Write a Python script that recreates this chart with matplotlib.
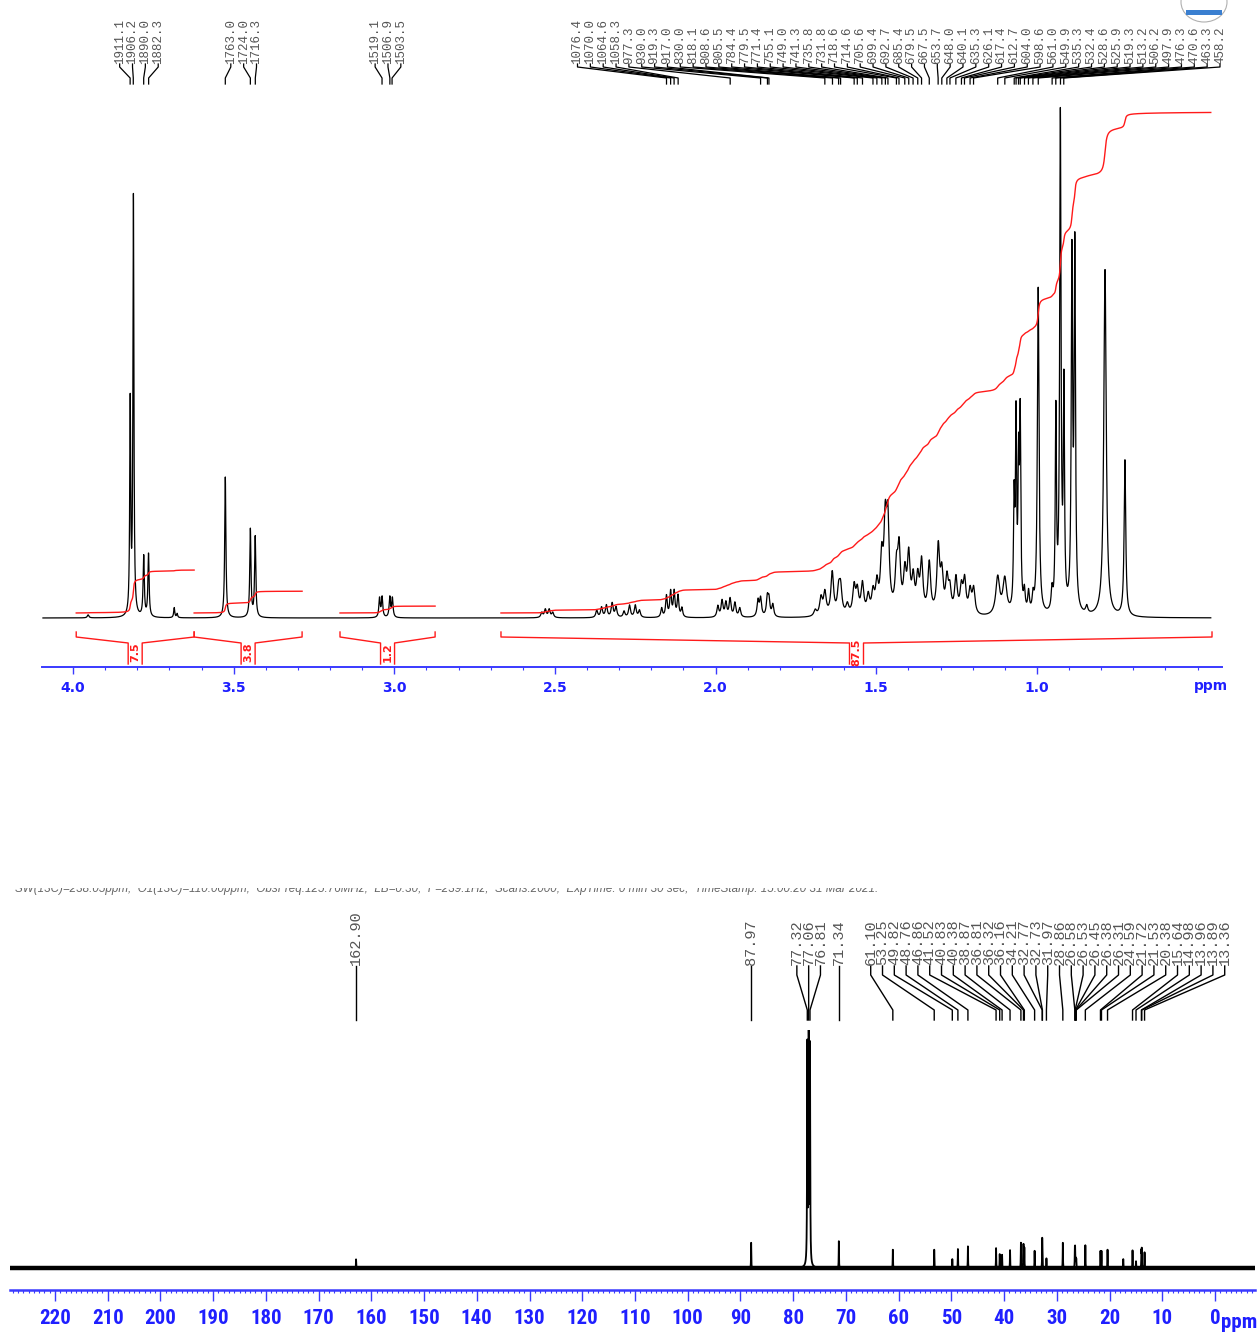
import numpy as np
import matplotlib
matplotlib.use("Agg")
import matplotlib.pyplot as plt
from matplotlib.lines import Line2D
from matplotlib.patches import Rectangle, Ellipse
from matplotlib import font_manager as fm

# ===================== DATA =====================
# ---- 1H spectrum (500 MHz) ----
h1_freq_mhz = 500.0
h1_peak_ppm = [
    3.953, 3.822, 3.812, 3.780, 3.765, 3.685, 3.676,
    3.526, 3.448, 3.433,
    3.046, 3.038, 3.014, 3.006,
    2.541, 2.530, 2.518, 2.507,
    2.370, 2.355, 2.340, 2.322, 2.310, 2.285, 2.268, 2.250, 2.237,
    2.168, 2.153, 2.140, 2.129, 2.117, 2.105,
    1.993, 1.980, 1.968, 1.955, 1.940, 1.925,
    1.868, 1.860, 1.839, 1.834, 1.822,
    1.690, 1.672, 1.660, 1.637, 1.617, 1.611, 1.590, 1.569, 1.559, 1.543,
    1.525, 1.510, 1.498, 1.483, 1.472, 1.464, 1.437, 1.429, 1.411, 1.399,
    1.385, 1.371, 1.359, 1.335, 1.307, 1.296, 1.280, 1.271, 1.252, 1.235,
    1.225, 1.208, 1.197,
    1.122, 1.100, 1.071, 1.065, 1.057, 1.052, 1.039, 1.026, 1.012, 0.996,
    0.953, 0.941, 0.927, 0.916, 0.891, 0.882, 0.845, 0.788, 0.726,
]
h1_peak_height = [
    0.006, 0.42, 0.83, 0.12, 0.125, 0.02, 0.008,
    0.28, 0.175, 0.16,
    0.038, 0.04, 0.04, 0.038,
    0.010, 0.016, 0.016, 0.010,
    0.014, 0.02, 0.024, 0.028, 0.02, 0.012, 0.024, 0.024, 0.014,
    0.018, 0.042, 0.05, 0.05, 0.042, 0.018,
    0.022, 0.032, 0.028, 0.036, 0.028, 0.018,
    0.032, 0.036, 0.036, 0.032, 0.024,
    0.012, 0.035, 0.045, 0.085, 0.045, 0.05, 0.02, 0.055, 0.045, 0.06,
    0.035, 0.04, 0.055, 0.10, 0.16, 0.17, 0.08, 0.12, 0.075, 0.11,
    0.065, 0.065, 0.10, 0.10, 0.13, 0.075, 0.065, 0.045, 0.07, 0.05,
    0.065, 0.045, 0.05,
    0.075, 0.07, 0.21, 0.37, 0.27, 0.37, 0.04, 0.04, 0.03, 0.65,
    0.04, 0.39, 0.98, 0.43, 0.69, 0.71, 0.015, 0.69, 0.31,
]
h1_peak_hwhm = (
    [0.003, 0.0018, 0.0018, 0.0022, 0.0022, 0.002, 0.002]
    + [0.0022] * 3 + [0.0025] * 4 + [0.0035] * 4 + [0.0035] * 9
    + [0.003] * 6 + [0.0035] * 6 + [0.0035] * 5 + [0.005] * 33
    + [0.007, 0.007, 0.0022, 0.0022, 0.0022, 0.0022, 0.003, 0.003, 0.003, 0.003,
       0.003, 0.0022, 0.0025, 0.0022, 0.0025, 0.0025, 0.004, 0.0045, 0.003]
)
h1_label_hz_groups = [
    [1911.1, 1906.2, 1890.0, 1882.3],
    [1763.0, 1724.0, 1716.3],
    [1519.1, 1506.9, 1503.5],
    [1076.4, 1070.0, 1064.6, 1058.3, 977.3, 930.0, 919.3, 917.0, 830.0, 818.1,
     808.6, 805.5, 784.4, 779.5, 771.4, 755.1, 749.0, 741.3, 735.8, 731.8,
     718.6, 714.6, 705.6, 699.4, 692.7, 685.4, 679.5, 667.5, 653.7, 648.0,
     640.1, 635.3, 626.1, 617.4, 612.7, 604.0, 598.6, 561.0, 549.9, 535.3,
     532.4, 528.6, 525.9, 519.3, 513.2, 506.2, 497.9, 476.3, 470.6, 463.3, 458.2],
]
h1_integral_from = [3.990, 3.623, 3.169, 2.668]
h1_integral_to = [3.623, 3.287, 2.873, 0.455]
h1_integral_value = [7.5, 3.8, 1.2, 87.5]
h1_tick_labels = ["4.0", "3.5", "3.0", "2.5", "2.0", "1.5", "1.0"]

# ---- 13C spectrum ----
c13_peak_ppm = [162.90, 87.97, 77.32, 77.06, 76.81, 71.34, 61.10, 53.25, 49.82,
                48.76, 46.86, 41.52, 40.83, 40.38, 38.87, 36.81, 36.32, 36.16,
                34.21, 32.77, 32.73, 31.97, 28.86, 26.58, 26.53, 26.45, 26.38,
                26.31, 24.59, 21.72, 21.53, 20.38, 17.40, 15.64, 14.98, 13.96,
                13.89, 13.36]
c13_peak_height = [0.039, 0.113, 0.98, 1.0, 0.97, 0.12, 0.082, 0.082, 0.04,
                   0.085, 0.097, 0.089, 0.062, 0.059, 0.08, 0.113, 0.105, 0.089,
                   0.077, 0.113, 0.06, 0.043, 0.113, 0.075, 0.075, 0.03, 0.03,
                   0.035, 0.102, 0.075, 0.075, 0.082, 0.04, 0.079, 0.03, 0.072,
                   0.08, 0.07]
c13_label_groups = [
    [162.90], [87.97], [77.32, 77.06, 76.81], [71.34],
    [61.10, 53.25, 49.82, 48.76, 46.86, 41.52, 40.83, 40.38, 38.87, 36.81,
     36.32, 36.16, 34.21, 32.77, 32.73, 31.97, 28.86, 26.58, 26.53, 26.45,
     26.38, 26.31, 24.59, 21.72, 21.53, 20.38, 15.64, 14.98, 13.96, 13.89, 13.36],
]
c13_tick_labels = ["220", "210", "200", "190", "180", "170", "160", "150", "140",
                   "130", "120", "110", "100", "90", "80", "70", "60", "50", "40",
                   "30", "20", "10", "0"]
c13_header = ("SW(13C)=238.05ppm;  O1(13C)=110.00ppm;  ObsFreq:125.76MHz;  LB=0.30;  "
              "F=239.1Hz;  Scans:2000;  ExpTime: 0 min 30 sec;  TimeStamp: 15:00:20 31 Mar 2021.")

# ===================== STYLE / LAYOUT =====================
W, H, DPI = 1260, 1333, 100
BLUE = "#1f1fff"
BLUE_LINE = "#3a3aff"
RED = "#ff1a1a"
LABEL_GREY = "#555555"

fig = plt.figure(figsize=(W / DPI, H / DPI), dpi=DPI)
fig.patch.set_facecolor("white")


def pick_condensed_bold(size):
    """Narrow/condensed bold font for the 13C axis, if one is installed."""
    cands = []
    for f in fm.fontManager.ttflist:
        fn = f.fname.lower()
        nm = f.name.lower()
        if ("narrow" in nm or "condensed" in nm or "condensed" in fn or "narrow" in fn) \
                and ("bold" in fn or f.weight in ("bold", 700)) and "oblique" not in fn \
                and "italic" not in fn and "mono" not in fn and "serif" not in nm.replace("sans", ""):
            cands.append(f)
    pref = ["liberation sans narrow", "roboto condensed", "dejavu sans", "open sans", "noto sans"]
    for p in pref:
        for f in cands:
            if f.name.lower().startswith(p):
                return fm.FontProperties(fname=f.fname, size=size), True
    if cands:
        return fm.FontProperties(fname=cands[0].fname, size=size), True
    return fm.FontProperties(family="Liberation Sans", weight="bold", size=size - 1.5), False


def rect(x0, y0, x1, y1):
    return [x0 / W, 1 - y1 / H, (x1 - x0) / W, (y1 - y0) / H]


def fx(x):
    return x / W


def fy(y):
    return 1 - y / H


def lorentz_sum(grid, pos, hts, hws):
    y = np.zeros_like(grid)
    for p, h, w in zip(pos, hts, hws):
        y += h / (1.0 + ((grid - p) / w) ** 2)
    return y


def spread(px, d, xmax):
    px = np.asarray(px, float)
    n = len(px)
    pos = px.mean() + (np.arange(n) - (n - 1) / 2.0) * d
    if pos[-1] > xmax:
        pos -= pos[-1] - xmax
    return pos


def add_fig_line(xs, ys, lw=0.9, color="black"):
    fig.add_artist(Line2D([fx(v) for v in xs], [fy(v) for v in ys],
                          transform=fig.transFigure, lw=lw, color=color))


# ---------------- top panel (1H) ----------------
T_X0, T_X1, T_Y0, T_Y1 = 42, 1222, 88, 667
T_XLIM = (4.0965, 0.4239)
T_BASE, T_UNIT = 618.0, 503.0


def t_y(ypx):
    return (T_BASE - ypx) / T_UNIT


def t_xpx(ppm):
    return T_X0 + (T_XLIM[0] - ppm) / (T_XLIM[0] - T_XLIM[1]) * (T_X1 - T_X0)


ax1 = fig.add_axes(rect(T_X0, T_Y0, T_X1, T_Y1))
ax1.set_xlim(*T_XLIM)
ax1.set_ylim(t_y(T_Y1), t_y(T_Y0))
ax1.patch.set_alpha(0)

g1 = np.linspace(T_XLIM[1] + 0.035, T_XLIM[0] - 0.003, 40000)
g1 = np.sort(np.concatenate([g1, h1_peak_ppm]))[::-1]
s1 = lorentz_sum(g1, h1_peak_ppm, h1_peak_height, h1_peak_hwhm)
ax1.plot(g1, s1, color="black", lw=0.9)

# integral curves
INT_SCALE = 5.72 / T_UNIT
INT_OFFSET = 0.01
for a, b, v in zip(h1_integral_from, h1_integral_to, h1_integral_value):
    m = (g1 <= a) & (g1 >= b)
    xs, ys = g1[m], s1[m]
    cum = np.concatenate([[0.0], np.cumsum(0.5 * (ys[1:] + ys[:-1]) * np.abs(np.diff(xs)))])
    cum = cum / cum[-1] * v * INT_SCALE + INT_OFFSET
    ax1.plot(xs, cum, color=RED, lw=1.0)

# integral brackets
hw = 7.0 / ((T_X1 - T_X0) / (T_XLIM[0] - T_XLIM[1]))
for a, b, v in zip(h1_integral_from, h1_integral_to, h1_integral_value):
    c = 0.5 * (a + b)
    yy = [t_y(632), t_y(637), t_y(643), t_y(664)]
    ax1.plot([a, a, c + hw, c + hw], yy, color=RED, lw=1.0, clip_on=False)
    ax1.plot([b, b, c - hw, c - hw], yy, color=RED, lw=1.0, clip_on=False)
    ax1.text(c, t_y(652), f"{v:.1f}", rotation=90, ha="center", va="center",
             color=RED, fontsize=8, fontweight="bold", clip_on=False)

for s in ["top", "left", "right"]:
    ax1.spines[s].set_visible(False)
ax1.spines["bottom"].set_color(BLUE_LINE)
ax1.spines["bottom"].set_linewidth(1.4)
ax1.set_yticks([])
maj1 = [float(t) for t in h1_tick_labels]
ax1.set_xticks(maj1)
ax1.set_xticklabels(h1_tick_labels)
ax1.set_xticks(np.round(np.arange(0.5, 4.05, 0.1), 1), minor=True)
ax1.tick_params(axis="x", which="major", direction="out", length=5, width=1.0,
                color=BLUE_LINE, pad=5, labelcolor=BLUE, labelsize=10)
ax1.tick_params(axis="x", which="minor", direction="out", length=2.5, width=0.8,
                color=BLUE_LINE)
for lab in ax1.get_xticklabels():
    lab.set_fontweight("bold")
fig.text(fx(1228), fy(686), "ppm", ha="right", va="center", color=BLUE,
         fontsize=10, fontweight="bold")

# peak labels (Hz)
for grp in h1_label_hz_groups:
    pk = [t_xpx(hz / h1_freq_mhz) for hz in grp]
    lx = spread(pk, 12.85, 1220)
    for hz, p, l in zip(grp, pk, lx):
        fig.text(fx(l), fy(64), f"{hz:.1f}", rotation=90, ha="center", va="bottom",
                 family="Liberation Mono", fontsize=9, color=LABEL_GREY)
        add_fig_line([l, l, p, p], [64, 67, 78, 84])

# logo stamp at top-right
fig.add_artist(Ellipse((fx(1204), fy(2)), 46 / W, 40 / H, transform=fig.transFigure,
                       facecolor="none", edgecolor="#b0b0b0", lw=0.8))
fig.add_artist(Rectangle((fx(1186), fy(15)), 36 / W, 5 / H, transform=fig.transFigure,
                         facecolor="#3a7fd0", edgecolor="none"))

# ---------------- bottom panel (13C) ----------------
B_X0, B_X1, B_Y0, B_Y1 = 10, 1255, 1030, 1290
B_XLIM = (228.53, -7.586)
B_BASE, B_UNIT = 1268.0, 223.0


def b_y(ypx):
    return (B_BASE - ypx) / B_UNIT


def b_xpx(ppm):
    return B_X0 + (B_XLIM[0] - ppm) / (B_XLIM[0] - B_XLIM[1]) * (B_X1 - B_X0)


ax2 = fig.add_axes(rect(B_X0, B_Y0, B_X1, B_Y1))
ax2.set_xlim(*B_XLIM)
ax2.set_ylim(b_y(B_Y1), b_y(B_Y0))
ax2.patch.set_alpha(0)

c13_hw = [0.05 if 76 < p < 78 else 0.03 for p in c13_peak_ppm]
g2 = np.linspace(B_XLIM[1], B_XLIM[0], 30000)
g2 = np.sort(np.concatenate([g2, c13_peak_ppm]))[::-1]
s2 = lorentz_sum(g2, c13_peak_ppm, c13_peak_height, c13_hw)
ax2.plot(g2, np.zeros_like(g2), color="black", lw=3.2)
ax2.plot(g2, s2, color="black", lw=1.3)

for s in ["top", "left", "right"]:
    ax2.spines[s].set_visible(False)
ax2.spines["bottom"].set_color(BLUE_LINE)
ax2.spines["bottom"].set_linewidth(1.8)
ax2.set_yticks([])
maj2 = [float(t) for t in c13_tick_labels]
ax2.set_xticks(maj2)
ax2.set_xticklabels(c13_tick_labels)
ax2.set_xticks(np.arange(-7, 229, 1), minor=True)
ax2.tick_params(axis="x", which="major", direction="out", length=8, width=1.0,
                color=BLUE_LINE, pad=6, labelcolor=BLUE)
ax2.tick_params(axis="x", which="minor", direction="out", length=2.5, width=0.8,
                color=BLUE_LINE)
cfont, is_cond = pick_condensed_bold(15)
for lab in ax2.get_xticklabels():
    lab.set_fontproperties(cfont)
fig.text(fx(1257), fy(1322), "ppm", ha="right", va="center", color=BLUE,
         fontproperties=cfont)

# ppm labels
for grp in c13_label_groups:
    pk = [b_xpx(v) for v in grp]
    lx = spread(pk, 11.8, 1226)
    for v, p, l in zip(grp, pk, lx):
        fig.text(fx(l), fy(965), f"{v:.2f}", rotation=90, ha="center", va="bottom",
                 family="Liberation Mono", fontsize=11, color=LABEL_GREY)
        add_fig_line([l, l, p, p], [966, 975, 1010, 1020], lw=1.0)

# acquisition header line (upper half cut off as in the scan)
fig.text(fx(15), fy(889), c13_header, ha="left", va="center", style="italic",
         family="Liberation Sans", fontsize=8.4, color="#666666", zorder=2)
fig.add_artist(Rectangle((0, fy(888)), 1, 20 / H, transform=fig.transFigure,
                         facecolor="white", edgecolor="none", zorder=20))

fig.savefig("out.png", dpi=DPI, facecolor="white")
